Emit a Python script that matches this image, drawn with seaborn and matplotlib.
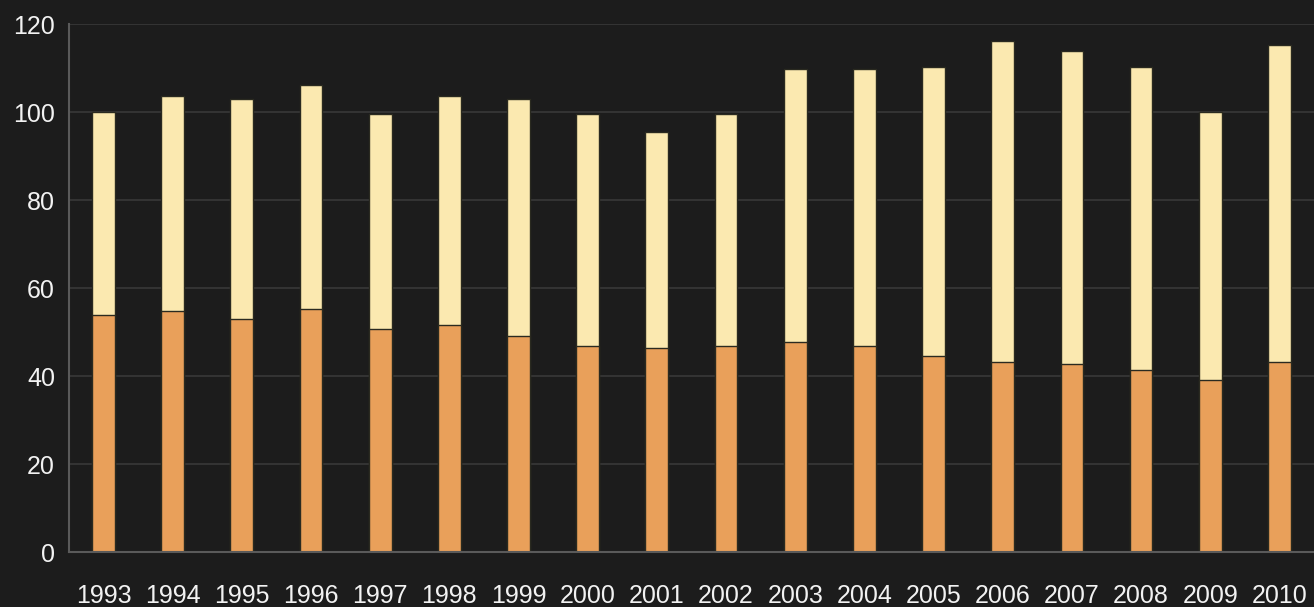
import numpy as np
import pandas as pd
import matplotlib
matplotlib.use("Agg")
import matplotlib.pyplot as plt
import seaborn as sns

years = [str(y) for y in range(1993, 2011)]
lower = [53.9, 54.8, 53.0, 55.2, 50.7, 51.6, 49.1, 46.8, 46.4, 46.8,
         47.7, 46.8, 44.5, 43.2, 42.7, 41.4, 39.1, 43.2]
total = [100.0, 103.6, 103.0, 106.1, 99.5, 103.6, 103.0, 99.5, 95.5, 99.5,
         109.8, 109.8, 110.2, 116.1, 113.9, 110.2, 100.0, 115.2]

df = pd.DataFrame({"year": years, "lower": lower, "total": total})

bg = "#1c1c1c"
sns.set_theme(style="dark")
plt.rcParams["font.family"] = ["Liberation Sans", "DejaVu Sans"]

fig = plt.figure(figsize=(13.14, 6.07), dpi=100, facecolor=bg)
ax = fig.add_axes([0.0525, 0.0906, 0.9475, 0.8694])
ax.set_facecolor(bg)

# total height in pale yellow, lower part drawn on top in orange
sns.barplot(data=df, x="year", y="total", color="#fbe9b0", saturation=1,
            width=0.33, edgecolor="#2a2a20", linewidth=1, ax=ax)
sns.barplot(data=df, x="year", y="lower", color="#e9a05a", saturation=1,
            width=0.33, edgecolor="#2a2a20", linewidth=1, ax=ax)

ax.set_ylim(0, 120)
ax.set_xlim(-0.5, 17.5)
ax.set_yticks(range(0, 121, 20))
ax.set_xlabel("")
ax.set_ylabel("")
ax.grid(axis="y", color="#333333", linewidth=1.5)
ax.grid(axis="x", visible=False)
ax.set_axisbelow(True)

for side in ["top", "right"]:
    ax.spines[side].set_visible(False)
for side in ["left", "bottom"]:
    ax.spines[side].set_visible(True)
    ax.spines[side].set_color("#5a5a5a")
    ax.spines[side].set_linewidth(1.5)

ax.tick_params(axis="both", colors="#f2f2f2", labelsize=18, length=0)
ax.tick_params(axis="x", pad=23)
ax.tick_params(axis="y", pad=10)

fig.savefig("out.png", dpi=100, facecolor=bg)
